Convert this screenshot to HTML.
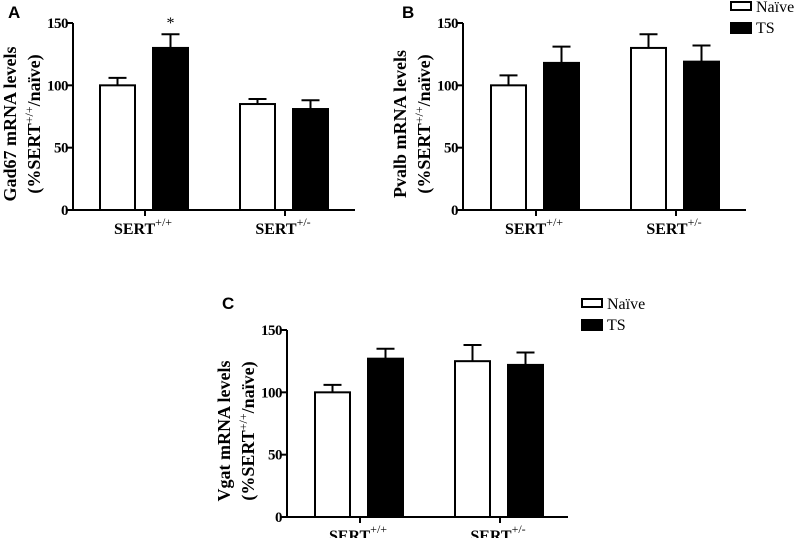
<!DOCTYPE html>
<html><head><meta charset="utf-8"><style>
html,body{margin:0;padding:0;background:#fff;width:797px;height:538px;overflow:hidden}
svg{display:block}
text{font-family:"Liberation Serif",serif;fill:#000}
.b{font-weight:bold}
.n{font-weight:normal}
.lab{font-family:"Liberation Sans",sans-serif;font-weight:bold;font-size:17px}
</style></head><body>
<svg id="fig" width="797" height="538" viewBox="0 0 797 538"></svg>
<script>
const categories = ["SERT", "SERT"];
const categorySup = ["+/+", "+/-"];
const seriesNames = ["Naïve", "TS"];
const yTicks = [0, 50, 100, 150];
const gad67Naive = [100, 85];
const gad67NaiveErr = [6, 4];
const gad67TS = [130, 81];
const gad67TSErr = [11, 7];
const pvalbNaive = [100, 130];
const pvalbNaiveErr = [8, 11];
const pvalbTS = [118, 119];
const pvalbTSErr = [13, 13];
const vgatNaive = [100, 125];
const vgatNaiveErr = [6, 13];
const vgatTS = [127, 122];
const vgatTSErr = [8, 10];
const gad67Sig = ["", "*", "", ""];

const NS = "http://www.w3.org/2000/svg";
const svg = document.getElementById("fig");
function mk(tag, attrs, parent, txt) {
  const e = document.createElementNS(NS, tag);
  for (const k in attrs) e.setAttribute(k, attrs[k]);
  if (txt !== undefined) e.textContent = txt;
  (parent || svg).appendChild(e);
  return e;
}

function panel(p) {
  const g = mk("g", {});
  
  
  const y = v => p.y0 - v * (p.y0 - p.y150) / 150;
  const L = mk("text", {x: p.letterX, y: p.letterY, class: "lab"}, g, p.letter);
  
  
  const ya = mk("line", {x1: p.ax, y1: p.y150, x2: p.ax, y2: p.y0 + 1, stroke: "#000", "stroke-width": 2}, g);
  
  
  yTicks.forEach(t => {
    mk("line", {x1: p.ax - 6, y1: y(t), x2: p.ax, y2: y(t), stroke: "#000", "stroke-width": 2}, g);
    const tl = mk("text", {x: p.ax - 5, y: y(t) + 5, "text-anchor": "end", class: "b", style: "font-size:15px;letter-spacing:-0.5px"}, g, String(t));
    
    
  });
  const xa = mk("line", {x1: p.ax - 1, y1: p.y0, x2: p.axEnd, y2: p.y0, stroke: "#000", "stroke-width": 2}, g);
  
  
  const cy = p.titleCY;
  const t1 = mk("text", {x: 0, y: 0, transform: `translate(${p.ax - 57},${cy}) rotate(-90)`, "text-anchor": "middle", class: "b", style: "font-size:18px"}, g, p.title);
  
  
  const t2 = mk("text", {x: 0, y: 0, transform: `translate(${p.ax - 33},${cy}) rotate(-90)`, "text-anchor": "middle", class: "b", style: "font-size:18px"}, g);
  
  
  mk("tspan", {}, t2, "(%SERT");
  mk("tspan", {dy: -7, class: "n", style: "font-size:12px"}, t2, "+/+");
  mk("tspan", {dy: 7}, t2, "/naïve)");
  const bw = 35, gap = 18, groupW = 140;
  categories.forEach((c, i) => {
    const gx = p.firstBar + i * groupW;
    const tickX = gx + bw + gap / 2 + 1;
    mk("line", {x1: tickX, y1: p.y0, x2: tickX, y2: p.y0 + 6, stroke: "#000", "stroke-width": 2}, g);
    const xl = mk("text", {x: tickX - 2, y: p.y0 + 24, "text-anchor": "middle", class: "b", style: "font-size:16px"}, g);
    
    
    mk("tspan", {}, xl, c);
    mk("tspan", {dy: -8, class: "n", style: "font-size:12px"}, xl, categorySup[i]);
    const series = [[p.naive, p.naiveErr, "#fff"], [p.ts, p.tsErr, "#000"]];
    series.forEach((s, j) => {
      const bx = gx + j * (bw + gap);
      const v = s[0][i], e = s[1][i];
      const cx = bx + bw / 2;
      const el = mk("line", {x1: cx, y1: y(v), x2: cx, y2: y(v + e), stroke: "#000", "stroke-width": 2}, g);
      
      
      mk("line", {x1: cx - 9, y1: y(v + e), x2: cx + 9, y2: y(v + e), stroke: "#000", "stroke-width": 2}, g);
      const r = mk("rect", {x: bx, y: y(v), width: bw, height: p.y0 - y(v), fill: s[2], stroke: "#000", "stroke-width": 2}, g);
      
      
      if (p.sig && p.sig[i * 2 + j]) {
        const st = mk("text", {x: cx, y: y(v + e) - 6, "text-anchor": "middle", class: "n", style: "font-size:16px"}, g, p.sig[i * 2 + j]);
        
        
      }
    });
  });
  if (p.legX) {
    seriesNames.forEach((n, k) => {
      const ly = p.legY + k * 21;
      const lb = mk("rect", {x: p.legX, y: ly, width: 20, height: k ? 10 : 8, fill: k ? "#000" : "#fff", stroke: "#000", "stroke-width": 2}, g);
      
      
      const lt = mk("text", {x: p.legX + 25, y: ly + 10, class: "n", style: "font-size:16px"}, g, n);
      
      
    });
  }
}

panel({name: "panel-a-gad67", letter: "A", letterX: 8, letterY: 18, ax: 73, axEnd: 355, y0: 210, y150: 23,
  firstBar: 100, title: "Gad67 mRNA levels", titleCY: 124, naive: gad67Naive, naiveErr: gad67NaiveErr,
  ts: gad67TS, tsErr: gad67TSErr, sig: gad67Sig});
panel({name: "panel-b-pvalb", letter: "B", letterX: 402, letterY: 18, ax: 463, axEnd: 746, y0: 210, y150: 23,
  firstBar: 491, title: "Pvalb mRNA levels", titleCY: 124, naive: pvalbNaive, naiveErr: pvalbNaiveErr,
  ts: pvalbTS, tsErr: pvalbTSErr, legX: 731, legY: 2});
panel({name: "panel-c-vgat", letter: "C", letterX: 222, letterY: 309, ax: 287, axEnd: 568, y0: 517, y150: 330,
  firstBar: 315, title: "Vgat mRNA levels", titleCY: 431, naive: vgatNaive, naiveErr: vgatNaiveErr,
  ts: vgatTS, tsErr: vgatTSErr, legX: 582, legY: 299});
</script>
</body></html>
